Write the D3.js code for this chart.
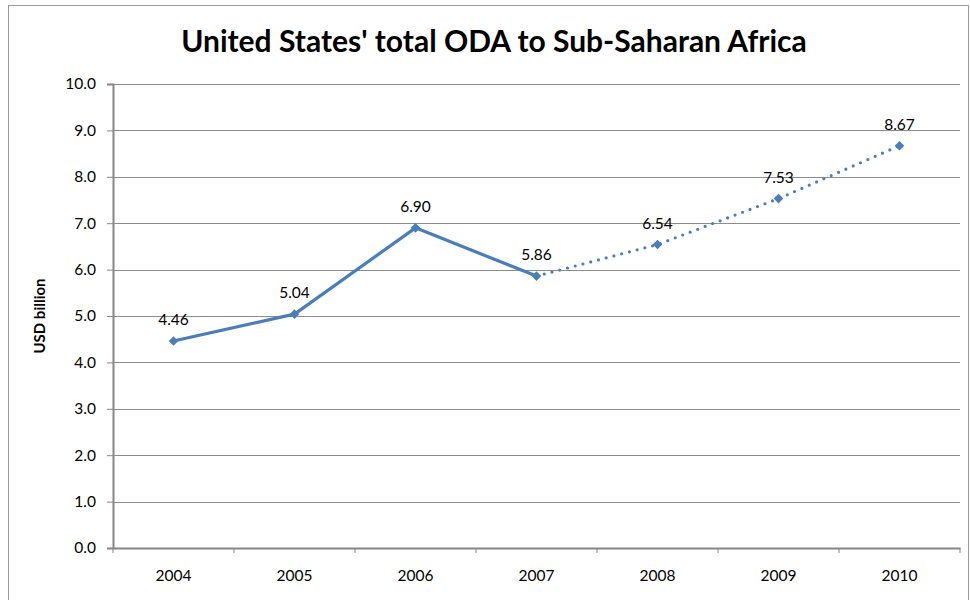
<!DOCTYPE html>
<html><head><meta charset="utf-8">
<script src="https://cdn.jsdelivr.net/npm/d3@7"></script>
<style>body{margin:0;background:#fff}svg{display:block}text{font-family:Lato,"Open Sans",sans-serif}</style>
</head><body>
<svg id="c" width="970" height="600"></svg>
<script>
const years = ["2004","2005","2006","2007","2008","2009","2010"];
const values = [4.46, 5.04, 6.90, 5.86, 6.54, 7.53, 8.67];
const valueLabels = ["4.46","5.04","6.90","5.86","6.54","7.53","8.67"];
const yTicks = [0,1,2,3,4,5,6,7,8,9,10];
const solidUntil = 3; // index of 2007; after that, projected (dotted)
const title = "United States' total ODA to Sub-Saharan Africa";
const yTitle = "USD billion";

const svg = d3.select("#c");
const m = {l:113, r:960, t:84, b:548};
const col = "#4a7ebb";
const fs = 15.5;

svg.append("rect").attr("x",8.5).attr("y",5.5).attr("width",960).attr("height",600)
  .attr("fill","none").attr("stroke","#9a9a9a").attr("stroke-width",1);

svg.append("text").attr("x",494).attr("y",52).attr("text-anchor","middle")
  .attr("font-size",30).attr("font-weight","bold").attr("fill","#000").text(title);

const x = d3.scaleBand().domain(years).range([m.l,m.r]);
const y = d3.scaleLinear().domain([0,10]).range([m.b,m.t]);

svg.append("g").selectAll("line").data(yTicks.slice(1)).join("line")
  .attr("x1",m.l).attr("x2",m.r).attr("y1",d=>Math.round(y(d))+0.5).attr("y2",d=>Math.round(y(d))+0.5)
  .attr("stroke","#8c8c8c").attr("stroke-width",1);

const ya = svg.append("g").attr("transform",`translate(${m.l},0)`)
  .call(d3.axisLeft(y).tickValues(yTicks).tickFormat(d3.format(".1f")).tickSize(6).tickPadding(11));
ya.select(".domain").attr("stroke","#868686").attr("stroke-width",2);
ya.selectAll(".tick line").attr("stroke","#868686");
ya.selectAll("text").attr("font-size",fs).attr("fill","#000").style("font-family","Lato, sans-serif");

const xa = svg.append("g").attr("transform",`translate(0,${m.b})`)
  .call(d3.axisBottom(x).tickSize(0).tickPadding(22));
xa.select(".domain").attr("stroke","#868686").attr("stroke-width",2);
xa.selectAll("text").attr("font-size",fs).attr("fill","#000").style("font-family","Lato, sans-serif");
const bounds = years.map(d=>x(d)).concat([m.r]);
svg.append("g").selectAll("line").data(bounds).join("line")
  .attr("x1",d=>Math.round(d)).attr("x2",d=>Math.round(d)).attr("y1",m.b).attr("y2",m.b+5)
  .attr("stroke","#868686").attr("stroke-width",1);

svg.append("text").attr("transform",`translate(45,316) rotate(-90)`).attr("text-anchor","middle")
  .attr("font-size",15).attr("font-weight","bold").attr("fill","#000").text(yTitle);

const pts = years.map((d,i)=>({yr:d,v:values[i],lab:valueLabels[i],i}));
const line = d3.line().x(d=>x(d.yr)+x.bandwidth()/2).y(d=>y(d.v));
svg.append("path").datum(pts.slice(0,solidUntil+1)).attr("d",line)
  .attr("fill","none").attr("stroke",col).attr("stroke-width",3.2).attr("stroke-linejoin","round");
svg.append("path").datum(pts.slice(solidUntil)).attr("d",line)
  .attr("fill","none").attr("stroke",col).attr("stroke-width",3.2)
  .attr("stroke-dasharray","0 8").attr("stroke-linecap","round");

svg.append("g").selectAll("path").data(pts).join("path")
  .attr("d",d3.symbol().type(d3.symbolSquare).size(46))
  .attr("transform",d=>`translate(${x(d.yr)+x.bandwidth()/2},${y(d.v)}) rotate(45)`)
  .attr("fill",col);

svg.append("g").selectAll("text").data(pts).join("text")
  .attr("x",d=>x(d.yr)+x.bandwidth()/2).attr("y",d=>y(d.v)-16)
  .attr("text-anchor","middle").attr("font-size",fs).attr("fill","#000").text(d=>d.lab);
</script>
</body></html>
